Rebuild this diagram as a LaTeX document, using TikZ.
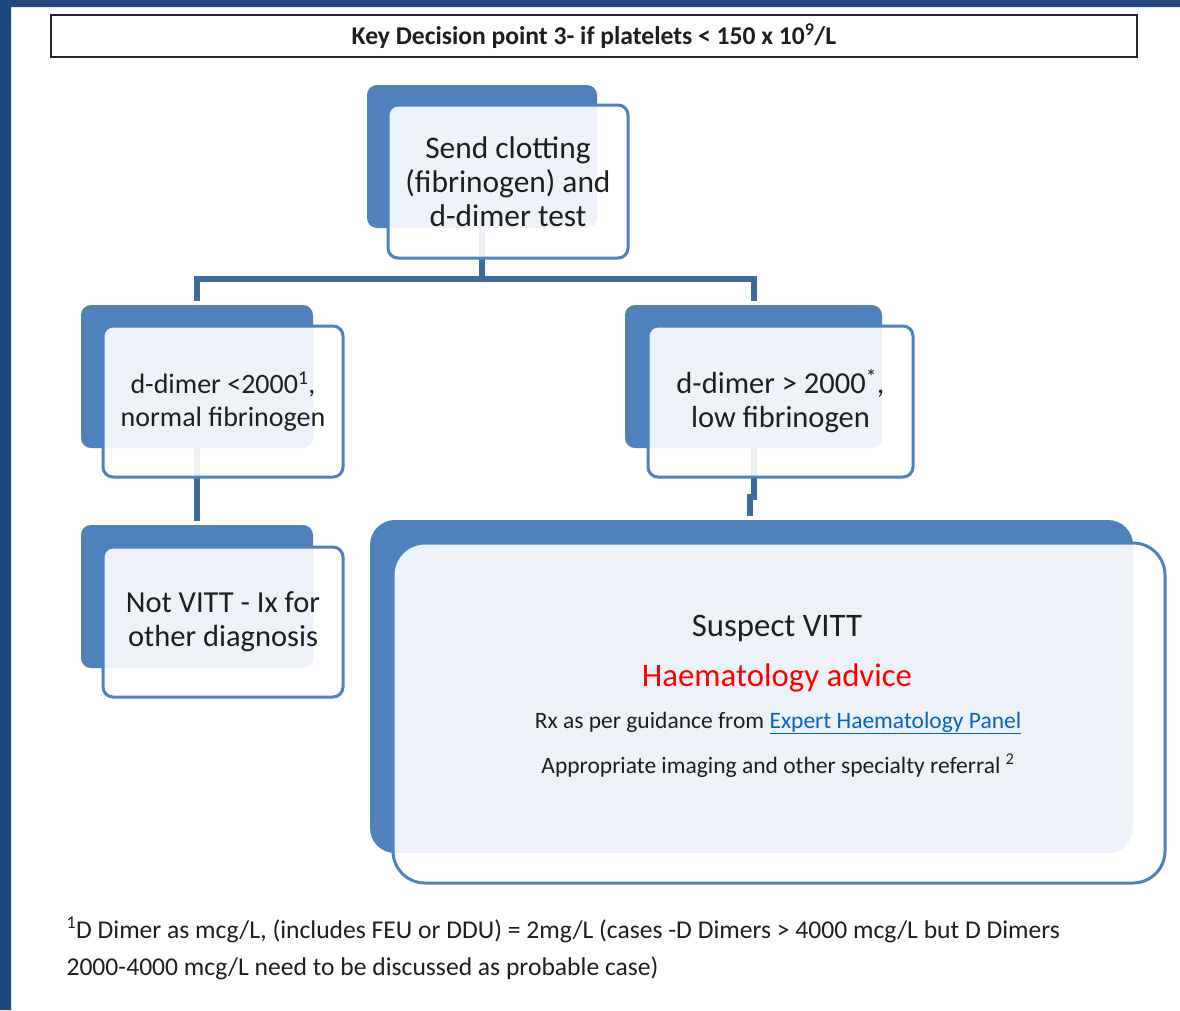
\documentclass[tikz,border=0pt]{standalone}
\usepackage{fontspec}
\setmainfont{Carlito}
\definecolor{boxblue}{RGB}{79,129,189}
\definecolor{linkblue}{RGB}{62,106,156}
\definecolor{framebg}{RGB}{31,73,125}
\definecolor{hlink}{RGB}{5,99,193}
\definecolor{txt}{RGB}{30,30,30}
\begin{document}
\begin{tikzpicture}[x=1pt,y=-1pt,
	backbox/.style={fill=boxblue,rounded corners=10pt,inner sep=0pt},
	frontbox/.style={draw=boxblue,line width=3pt,fill=white,fill opacity=0.9,text opacity=1,rounded corners=10pt,align=center,text=txt,font=\fontsize{30.5}{34}\selectfont},
	conn/.style={draw=linkblue,line width=6pt,shorten >=4pt},
	bigtext/.style={text=txt,font=\fontsize{#1}{#1}\selectfont}]
		\useasboundingbox (0,0) rectangle (1180,1010);
		\fill[white] (0,0) rectangle (1180,1010);
		\fill[framebg] (0,0) rectangle (1180,7) (0,0) rectangle (11,1010);
		% title bar
		\node[draw=black!85,line width=2pt,minimum width=1086pt,minimum height=42pt,text=txt,font=\bfseries\fontsize{25.6}{26}\selectfont] (title) at (594,36) {Key Decision point 3- if platelets < 150 x 10\textsuperscript{9}/L};
		% back blocks
		\node[backbox,minimum width=230pt,minimum height=143pt] (b1) at (482,156.5) {};
		\node[backbox,minimum width=232pt,minimum height=143pt] (b2) at (197,376.5) {};
		\node[backbox,minimum width=257pt,minimum height=143pt] (b3) at (753.5,376.5) {};
		\node[backbox,minimum width=232pt,minimum height=143pt] (b4) at (197,596.5) {};
		\node[backbox,rounded corners=25pt,minimum width=763pt,minimum height=333pt] (b5) at (751.5,686.5) {};
		% connectors
		\draw[conn,shorten >=0pt] (b1.south) -- ++(0,51) coordinate (bus);
		\draw[conn,shorten <=0pt,shorten >=4pt] (bus) -| (b2.north);
		\draw[conn] (bus) -| (b3.north);
		\draw[conn] (b2.south) -- (b4.north);
		\draw[conn] (b3.south) -- ++(0,49) -- ++(-4,0) -- ([xshift=-2pt]b5.north);
		% front boxes
		\node[frontbox,minimum width=240pt,minimum height=153pt,font=\fontsize{31.4}{34}\selectfont] (f1) at (508,181.5) {Send clotting\\(fibrinogen) and\\d-dimer test};
		\node[frontbox,minimum width=240pt,minimum height=151pt,font=\fontsize{28}{33}\selectfont] (f2) at (223,401.5) {d-dimer <2000\textsuperscript{1},\\normal fibrinogen};
		\node[frontbox,minimum width=265pt,minimum height=151pt] (f3) at (780.5,401.5) {d-dimer > 2000\textsuperscript{*},\\low fibrinogen};
		\node[frontbox,minimum width=240pt,minimum height=150pt] (f4) at (223,622) {Not VITT - Ix for\\other diagnosis};
		\node[frontbox,rounded corners=32pt,minimum width=772pt,minimum height=340pt] (f5) at (779,713) {};
		\node[bigtext=32.8] (suspect) at (777,628) {Suspect VITT};
		\node[bigtext=32.8,text=red] (advice) at (777,678) {Haematology advice};
		\node[bigtext=23.5] (rx) at (778,723) {Rx as per guidance from \textcolor{hlink}{\underline{Expert Haematology Panel}}};
		\node[bigtext=23.5] (imaging) at (778,766) {Appropriate imaging and other specialty referral \textsuperscript{2}};
		% footnote
		\node[anchor=base west,bigtext=25.6] (fn1) at (63,938) {\textsuperscript{1}D Dimer as mcg/L, (includes FEU or DDU) = 2mg/L (cases -D Dimers > 4000 mcg/L but D Dimers};
		\node[anchor=base west,bigtext=25.6] (fn2) at (63,975) {2000-4000 mcg/L need to be discussed as probable case)};
	\end{tikzpicture}
\end{document}
